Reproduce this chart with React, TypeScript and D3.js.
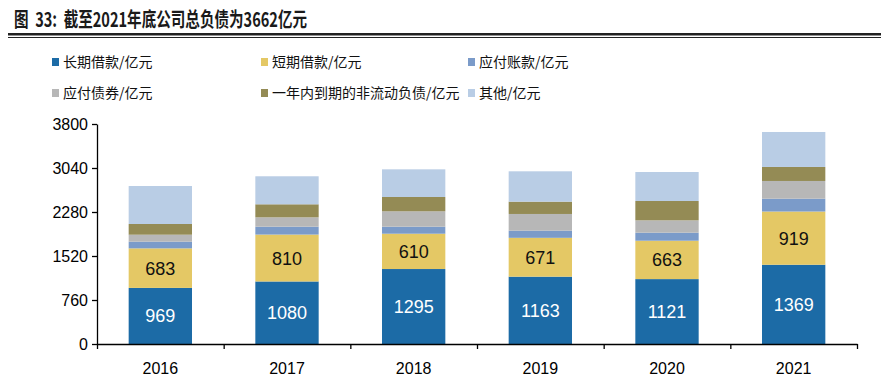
import React, { useEffect, useRef } from "react";
import * as d3 from "d3";

const years = ["2016", "2017", "2018", "2019", "2020", "2021"];
const longLoan = [969, 1080, 1295, 1163, 1121, 1369];
const shortLoan = [683, 810, 610, 671, 663, 919];
const payables = [116, 136, 121, 124, 139, 222];
const bonds = [120, 162, 266, 288, 213, 306];
const currentNonCurrent = [185, 225, 247, 213, 334, 242];
const others = [656, 484, 478, 524, 501, 604];
const seriesNames = [
  "长期借款/亿元",
  "短期借款/亿元",
  "应付账款/亿元",
  "应付债券/亿元",
  "一年内到期的非流动负债/亿元",
  "其他/亿元",
];
const colors = ["#1c6ba6", "#e4c865", "#7b9bc9", "#b7b7b7", "#948b55", "#b9cde5"];
const yTicks = [0, 760, 1520, 2280, 3040, 3800];

const W = 881;
const H = 385;

const App = () => {
  const svgRef = useRef<SVGSVGElement>(null);

  useEffect(() => {
    const svg = d3.select(svgRef.current);
    svg.selectAll("*").remove();

    const margin = { top: 124, left: 97, right: 24, bottom: 41 };
    const width = W - margin.left - margin.right;
    const height = H - margin.top - margin.bottom;

    // title + double rule
    svg
      .append("text")
      .attr("x", 14)
      .attr("y", 27)
      .attr("font-family", "'Noto Sans CJK SC', sans-serif")
      .attr("font-weight", "bold")
      .attr("font-size", 20)
      .attr("fill", "#1a1a1a")
      .attr("textLength", 293)
      .attr("lengthAdjust", "spacingAndGlyphs")
      .text("图\u00a0\u00a033:\u00a0\u00a0截至2021年底公司总负债为3662亿元");
    svg.append("rect").attr("x", 8).attr("y", 33).attr("width", W - 8).attr("height", 2.5).attr("fill", "#222");
    svg.append("rect").attr("x", 8).attr("y", 37).attr("width", W - 8).attr("height", 1).attr("fill", "#222");

    // legend
    const legendX = [52, 261, 468];
    const legendY = [62, 93];
    seriesNames.forEach((name, i) => {
      const lx = legendX[i % 3];
      const ly = legendY[Math.floor(i / 3)];
      svg.append("rect").attr("x", lx).attr("y", ly - 4).attr("width", 7).attr("height", 8).attr("fill", colors[i]);
      svg
        .append("text")
        .attr("x", lx + 11)
        .attr("y", ly)
        .attr("dy", "0.36em")
        .attr("font-family", "'Noto Sans CJK SC', sans-serif")
        .attr("font-size", 14)
        .attr("fill", "#111")
        .text(name);
    });

    const keys = ["long", "short", "pay", "bond", "cur", "other"];
    const table = years.map((y, i) => ({
      year: y,
      long: longLoan[i],
      short: shortLoan[i],
      pay: payables[i],
      bond: bonds[i],
      cur: currentNonCurrent[i],
      other: others[i],
    }));
    const stacked = d3.stack<any>().keys(keys)(table);

    const x = d3.scaleBand().domain(years).range([0, width]).paddingInner(0.5).paddingOuter(0.25);
    const y = d3.scaleLinear().domain([0, 3800]).range([height, 0]);

    const g = svg.append("g").attr("transform", `translate(${margin.left},${margin.top})`);

    stacked.forEach((layer, si) => {
      g.append("g")
        .selectAll("rect")
        .data(layer)
        .join("rect")
        .attr("x", (d: any) => x(d.data.year)!)
        .attr("width", x.bandwidth())
        .attr("y", (d) => y(d[1]))
        .attr("height", (d) => y(d[0]) - y(d[1]))
        .attr("fill", colors[si]);
    });

    // value labels for the two loan series
    [0, 1].forEach((si) => {
      g.append("g")
        .selectAll("text")
        .data(stacked[si])
        .join("text")
        .attr("x", (d: any) => x(d.data.year)! + x.bandwidth() / 2)
        .attr("y", (d) => y((d[0] + d[1]) / 2))
        .attr("dy", "0.36em")
        .attr("text-anchor", "middle")
        .attr("font-family", "'Liberation Sans', Arial, sans-serif")
        .attr("font-size", 18)
        .attr("fill", si === 0 ? "#fff" : "#111")
        .text((d) => String(d[1] - d[0]));
    });

    // axes
    const yAxis = d3.axisLeft(y).tickValues(yTicks).tickSize(5).tickSizeOuter(0).tickFormat(d3.format("d"));
    const ya = g.append("g").call(yAxis);
    const xAxis = d3
      .axisBottom(d3.scalePoint().domain(d3.range(7).map(String)).range([0, width]))
      .tickSize(5)
      .tickSizeOuter(0)
      .tickFormat(() => "");
    const xa = g.append("g").attr("transform", `translate(0,${height})`).call(xAxis);
    [ya, xa].forEach((a) => {
      a.selectAll("path,line").attr("stroke", "#000").attr("stroke-width", 1.3);
    });
    ya.selectAll("text")
      .attr("font-family", "'Liberation Sans', Arial, sans-serif")
      .attr("font-size", 16)
      .attr("fill", "#000")
      .attr("x", -9);

    g.append("g")
      .selectAll("text")
      .data(years)
      .join("text")
      .attr("x", (d) => x(d)! + x.bandwidth() / 2)
      .attr("y", height + 30)
      .attr("text-anchor", "middle")
      .attr("font-family", "'Liberation Sans', Arial, sans-serif")
      .attr("font-size", 16)
      .attr("fill", "#000")
      .text((d) => d);
  }, []);

  return (
    <div style={{ position: "absolute", left: 0, top: 0, background: "#fff" }}>
      <svg ref={svgRef} width={W} height={H} style={{ display: "block" }}></svg>
    </div>
  );
};

export default App;
